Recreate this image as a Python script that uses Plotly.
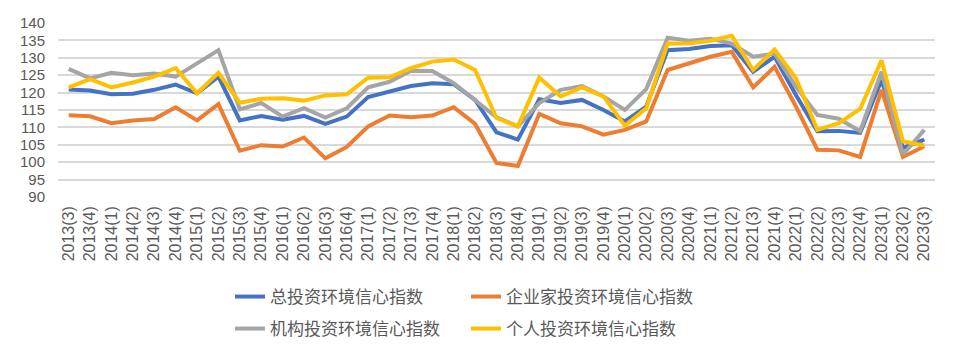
import plotly.graph_objects as go

quarters = ["2013(3)", "2013(4)",
            "2014(1)", "2014(2)", "2014(3)", "2014(4)",
            "2015(1)", "2015(2)", "2015(3)", "2015(4)",
            "2016(1)", "2016(2)", "2016(3)", "2016(4)",
            "2017(1)", "2017(2)", "2017(3)", "2017(4)",
            "2018(1)", "2018(2)", "2018(3)", "2018(4)",
            "2019(1)", "2019(2)", "2019(3)", "2019(4)",
            "2020(1)", "2020(2)", "2020(3)", "2020(4)",
            "2021(1)", "2021(2)", "2021(3)", "2021(4)",
            "2022(1)", "2022(2)", "2022(3)", "2022(4)",
            "2023(1)", "2023(2)", "2023(3)"]

total_idx = [120.9, 120.6, 119.5, 119.7, 120.8, 122.3, 119.8, 124.6, 112.0, 113.3,
             112.2, 113.3, 111.0, 113.1, 118.7, 120.3, 121.9, 122.7, 122.4, 117.9,
             108.6, 106.5, 118.1, 117.0, 117.9, 115.0, 111.7, 116.0, 132.2, 132.5,
             133.4, 133.6, 126.0, 130.3, 119.3, 108.9, 109.0, 108.4, 123.6, 104.1,
             106.5]
entrepreneur_idx = [113.5, 113.2, 111.2, 112.0, 112.4, 115.8, 112.0, 116.7, 103.3, 104.9,
                    104.5, 107.1, 101.1, 104.4, 110.3, 113.4, 112.9, 113.4, 115.8, 111.0,
                    99.8, 98.9, 113.9, 111.2, 110.3, 107.9, 109.3, 111.7, 126.5, 128.4,
                    130.3, 131.7, 121.5, 127.4, 116.0, 103.6, 103.4, 101.5, 120.8, 101.5,
                    104.6]
institution_idx = [126.8, 124.1, 125.7, 125.0, 125.5, 124.6, 128.4, 132.2, 115.2, 117.0,
                   113.1, 115.5, 112.8, 115.5, 121.5, 123.1, 126.3, 126.2, 122.7, 117.9,
                   112.9, 110.3, 117.0, 120.8, 121.9, 118.9, 115.0, 121.0, 135.8, 134.9,
                   135.5, 134.1, 130.3, 131.2, 121.7, 113.6, 112.5, 108.9, 126.0, 102.2,
                   109.3]
individual_idx = [121.5, 123.9, 121.5, 122.9, 124.6, 127.0, 119.8, 125.7, 117.1, 118.2,
                  118.4, 117.7, 119.2, 119.5, 124.3, 124.4, 127.0, 128.9, 129.5, 126.5,
                  112.7, 110.3, 124.3, 118.9, 121.5, 118.9, 110.5, 115.5, 134.1, 134.1,
                  134.9, 136.3, 126.5, 132.4, 124.1, 109.3, 111.2, 115.3, 129.3, 106.0,
                  104.8]
y_ticks = [90, 95, 100, 105, 110, 115, 120, 125, 130, 135, 140]

series = [
    ("总投资环境信心指数", total_idx, "#4472C4", "legend"),
    ("企业家投资环境信心指数", entrepreneur_idx, "#ED7D31", "legend"),
    ("机构投资环境信心指数", institution_idx, "#A5A5A5", "legend2"),
    ("个人投资环境信心指数", individual_idx, "#FFC000", "legend2"),
]

FONT = "Noto Sans CJK SC"
NUMFONT = "Liberation Sans"
TXT = "#595959"

fig = go.Figure()
for name, vals, color, leg in series:
    fig.add_trace(go.Scatter(
        x=quarters, y=vals, name=name, mode="lines",
        line=dict(color=color, width=4),
        legend=leg,
    ))

leg_common = dict(orientation="h", xref="container", yref="container",
                  xanchor="left", yanchor="middle", entrywidth=191,
                  font=dict(size=17, color=TXT, family=FONT),
                  bgcolor="rgba(0,0,0,0)")

fig.update_layout(
    width=959, height=355,
    margin=dict(l=58, r=24, t=23, b=158, autoexpand=False),
    paper_bgcolor="white", plot_bgcolor="white",
    font=dict(family=FONT, color=TXT, size=17),
    legend=dict(leg_common, x=230 / 959, y=1 - 297 / 355),
    legend2=dict(leg_common, x=230 / 959, y=1 - 329 / 355),
    showlegend=True,
)
fig.update_xaxes(
    type="category", tickangle=-90, showgrid=False, showline=False,
    ticks="", tickfont=dict(size=16, color=TXT, family=NUMFONT),
    range=[-0.5, len(quarters) - 0.5], ticklabelstandoff=5, automargin=False,
)
fig.update_yaxes(
    range=[90, 140], tickvals=y_ticks, showgrid=True, gridcolor="#D9D9D9",
    gridwidth=1.5, zeroline=False, showline=False, ticks="",
    tickfont=dict(size=15, color=TXT, family=NUMFONT), ticklabelstandoff=12,
    automargin=False,
)

fig.write_html(
    "out.html",
    config={"displayModeBar": False},
    post_script="document.body.style.margin='0';document.body.style.padding='0';",
)
